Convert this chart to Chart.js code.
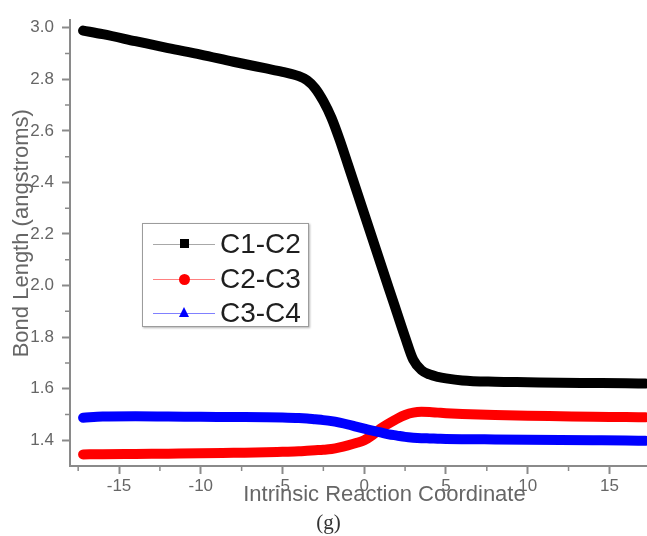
<!DOCTYPE html>
<html>
<head>
<meta charset="utf-8">
<title>Bond lengths along the IRC</title>
<script src="https://cdn.jsdelivr.net/npm/chart.js@4.4.1/dist/chart.umd.min.js"></script>
<style>
  html, body { margin: 0; padding: 0; background: #fff; }
  #wrap { position: relative; width: 647px; height: 536px; overflow: hidden; }
  #c { position: absolute; left: 0; top: 0; }
  #legend {
    position: absolute; left: 142px; top: 223px; width: 165px; height: 102px;
    border: 1.5px solid #9c9c9c; background: #fff;
    box-shadow: 1px 1px 2px rgba(0,0,0,0.3);
    font-family: "Liberation Sans", Arial, sans-serif;
  }
  .row { position: absolute; left: 0; width: 165px; height: 30px; }
  .row .ln { position: absolute; left: 10px; width: 62px; top: 14.5px; height: 1px; }
  .row .mk { position: absolute; }
  .row .tx { position: absolute; left: 77px; top: 0; line-height: 30px; font-size: 28px; color: #1e1e1e; white-space: nowrap; }
  #panel {
    position: absolute; left: 0; width: 657px; top: 510px; text-align: center;
    font-family: "Liberation Serif", "DejaVu Serif", serif; font-size: 21px; color: #333;
  }
</style>
</head>
<body>
<div id="wrap">
  <canvas id="c" width="647" height="536"></canvas>
  <div id="legend"></div>
  <div id="panel">(g)</div>
</div>
<script>
// Intrinsic reaction coordinate (x) and the three C–C bond lengths (Å)
const IRC = [-17.2, -16, -14, -12, -10, -8, -6, -5, -4, -3.5, -3, -2.5, -2, -1.5, -1, -0.5,
             0, 0.5, 1, 1.5, 2, 2.5, 3, 3.5, 4, 4.5, 5, 6, 8, 10, 12, 14, 16, 17.2];
const C1C2 = [2.989, 2.975, 2.948, 2.921, 2.896, 2.868, 2.842, 2.829, 2.812, 2.796, 2.765, 2.715,
              2.650, 2.565, 2.470, 2.374, 2.278, 2.182, 2.086, 1.990, 1.895, 1.800, 1.712, 1.672,
              1.655, 1.646, 1.640, 1.632, 1.627, 1.625, 1.623, 1.622, 1.621, 1.620];
const C2C3 = [1.345, 1.346, 1.347, 1.348, 1.349, 1.351, 1.353, 1.355, 1.357, 1.359, 1.361, 1.363,
              1.366, 1.372, 1.380, 1.389, 1.400, 1.420, 1.445, 1.465, 1.483, 1.498, 1.507, 1.510,
              1.509, 1.507, 1.505, 1.502, 1.498, 1.495, 1.493, 1.491, 1.490, 1.489];
const C3C4 = [1.487, 1.492, 1.493, 1.492, 1.491, 1.490, 1.489, 1.488, 1.486, 1.484, 1.481, 1.478,
              1.474, 1.468, 1.461, 1.453, 1.445, 1.437, 1.430, 1.423, 1.418, 1.413, 1.410, 1.408,
              1.407, 1.406, 1.405, 1.404, 1.403, 1.402, 1.401, 1.400, 1.399, 1.398];

const SERIES_NAMES = ['C1-C2', 'C2-C3', 'C3-C4'];
const X_MAJOR = [-15, -10, -5, 0, 5, 10, 15];
const X_MINOR = [-17.5, -12.5, -7.5, -2.5, 2.5, 7.5, 12.5];
const Y_MAJOR = [1.4, 1.6, 1.8, 2.0, 2.2, 2.4, 2.6, 2.8, 3.0];
const Y_MINOR = [1.5, 1.7, 1.9, 2.1, 2.3, 2.5, 2.7, 2.9];
const X_TITLE = 'Intrinsic Reaction Coordinate';
const Y_TITLE = 'Bond Length (angstroms)';

const AXIS_COLOR = '#8a8a8a';
const LABEL_COLOR = '#666666';
const FONT = '"Liberation Sans", Arial, sans-serif';

const pts = ys => IRC.map((x, i) => ({ x, y: ys[i] }));

// short unlabelled ticks between the major ones, plus the axis titles
const axisExtras = {
  id: 'axisExtras',
  afterDraw(chart) {
    const { ctx, chartArea } = chart;
    const xs = chart.scales.x, ys = chart.scales.y;
    ctx.save();
    ctx.strokeStyle = AXIS_COLOR;
    ctx.lineWidth = 1.5;
    ctx.beginPath();
    X_MINOR.forEach(v => {
      const px = xs.getPixelForValue(v);
      ctx.moveTo(px, chartArea.bottom); ctx.lineTo(px, chartArea.bottom + 5);
    });
    Y_MINOR.forEach(v => {
      const py = ys.getPixelForValue(v);
      ctx.moveTo(chartArea.left, py); ctx.lineTo(chartArea.left - 5, py);
    });
    ctx.stroke();

    ctx.fillStyle = LABEL_COLOR;
    ctx.font = '22px ' + FONT;
    ctx.textAlign = 'center';
    ctx.textBaseline = 'middle';
    ctx.fillText(X_TITLE, chartArea.left + (chartArea.right - chartArea.left) * 0.545, chartArea.bottom + 29);
    ctx.translate(chartArea.left - 48, chartArea.top + (chartArea.bottom - chartArea.top) * 0.478);
    ctx.rotate(-Math.PI / 2);
    ctx.fillText(Y_TITLE, 0, 0);
    ctx.restore();
  }
};

const chart = new Chart(document.getElementById('c'), {
  type: 'line',
  data: {
    datasets: [
      { label: SERIES_NAMES[0], data: pts(C1C2), borderColor: '#000000', backgroundColor: '#000000',
        legendLine: '#a8a8a8', marker: 'square', order: 2 },
      { label: SERIES_NAMES[1], data: pts(C2C3), borderColor: '#ff0000', backgroundColor: '#ff0000',
        legendLine: '#ff8080', marker: 'circle', order: 1 },
      { label: SERIES_NAMES[2], data: pts(C3C4), borderColor: '#0000ff', backgroundColor: '#0000ff',
        legendLine: '#8080ff', marker: 'triangle', order: 0 }
    ]
  },
  options: {
    responsive: false,
    animation: false,
    events: [],
    layout: { padding: { top: 20, right: 0, left: 0, bottom: 0 } },
    elements: {
      line: { borderWidth: 10, cubicInterpolationMode: 'monotone', borderCapStyle: 'round', borderJoinStyle: 'round' },
      point: { radius: 0 }
    },
    plugins: { legend: { display: false }, tooltip: { enabled: false } },
    scales: {
      x: {
        type: 'linear', min: -18, max: 17.3,
        afterFit: s => { s.height = 70; },
        afterBuildTicks: s => { s.ticks = X_MAJOR.map(v => ({ value: v })); },
        ticks: { color: LABEL_COLOR, font: { family: FONT, size: 17 }, padding: 2,
                 maxRotation: 0, autoSkip: false, callback: v => String(v) },
        grid: { drawOnChartArea: false, drawTicks: true, tickLength: 8, tickWidth: 2, tickColor: AXIS_COLOR },
        border: { display: true, color: AXIS_COLOR, width: 2 }
      },
      y: {
        type: 'linear', min: 1.3, max: 3.03,
        afterFit: s => { s.width = 70; },
        afterBuildTicks: s => { s.ticks = Y_MAJOR.map(v => ({ value: v })); },
        ticks: { color: LABEL_COLOR, font: { family: FONT, size: 17 }, padding: 8,
                 autoSkip: false, callback: v => Number(v).toFixed(1) },
        grid: { drawOnChartArea: false, drawTicks: true, tickLength: 8, tickWidth: 2, tickColor: AXIS_COLOR },
        border: { display: true, color: AXIS_COLOR, width: 2 }
      }
    }
  },
  plugins: [axisExtras]
});

// legend box built from the chart's datasets
const legend = document.getElementById('legend');
const ROW_TOP = [5, 40, 74];
chart.data.datasets.forEach((ds, i) => {
  const row = document.createElement('div');
  row.className = 'row';
  row.style.top = ROW_TOP[i] + 'px';
  const ln = document.createElement('div');
  ln.className = 'ln';
  ln.style.background = ds.legendLine;
  const mk = document.createElement('div');
  mk.className = 'mk';
  if (ds.marker === 'square') {
    Object.assign(mk.style, { left: '37px', top: '10px', width: '9px', height: '9px', background: ds.borderColor });
  } else if (ds.marker === 'circle') {
    Object.assign(mk.style, { left: '36px', top: '9.5px', width: '11px', height: '11px', borderRadius: '50%', background: ds.borderColor });
  } else {
    Object.assign(mk.style, { left: '36px', top: '9px', width: '0', height: '0',
      borderLeft: '5.5px solid transparent', borderRight: '5.5px solid transparent',
      borderBottom: '10px solid ' + ds.borderColor });
  }
  const tx = document.createElement('div');
  tx.className = 'tx';
  tx.textContent = ds.label;
  row.appendChild(ln); row.appendChild(mk); row.appendChild(tx);
  legend.appendChild(row);
});
</script>
</body>
</html>
